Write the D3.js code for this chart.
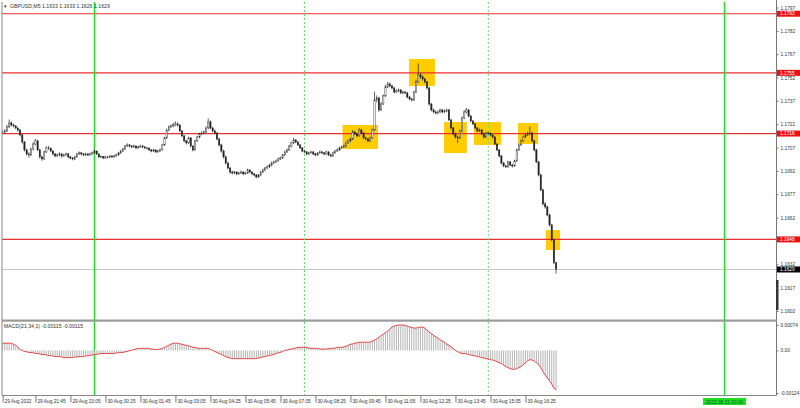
<!DOCTYPE html>
<html><head><meta charset="utf-8">
<script src="https://cdn.jsdelivr.net/npm/d3@7"></script>
<style>
body{margin:0;background:#fff}
svg{display:block}
text{font-family:"Liberation Sans",Arial,sans-serif}
</style>
</head><body>
<svg id="c" width="800" height="408"></svg>
<script>
// ---------------- data ----------------
const symbol = "GBPUSD,M5";
const firstBarTime = "2022-08-29 20:30";
const firstOpen = 1.17165;
const close = [1.17170,1.17177,1.17203,1.17228,1.17215,1.17209,1.17196,1.17183,1.17151,1.17106,
1.17055,1.17029,1.17023,1.17061,1.17093,1.17113,1.17055,1.17010,1.16997,1.17042,
1.17068,1.17065,1.17048,1.17029,1.17016,1.17023,1.17029,1.17016,1.17023,1.17029,
1.17010,1.17003,1.16997,1.17010,1.17029,1.17036,1.17029,1.17023,1.17029,1.17023,
1.17029,1.17036,1.17048,1.17029,1.17010,1.17012,1.17003,1.17010,1.17008,1.17016,
1.17010,1.17016,1.17023,1.17036,1.17048,1.17061,1.17080,1.17087,1.17080,1.17074,
1.17080,1.17068,1.17074,1.17080,1.17074,1.17068,1.17066,1.17055,1.17048,1.17055,
1.17042,1.17048,1.17055,1.17087,1.17132,1.17183,1.17203,1.17209,1.17215,1.17222,
1.17215,1.17177,1.17145,1.17113,1.17100,1.17132,1.17080,1.17055,1.17113,1.17138,
1.17158,1.17164,1.17170,1.17196,1.17235,1.17196,1.17177,1.17164,1.17125,1.17087,
1.17048,1.17010,1.16971,1.16939,1.16913,1.16907,1.16913,1.16901,1.16907,1.16913,
1.16901,1.16907,1.16926,1.16913,1.16901,1.16894,1.16881,1.16894,1.16913,1.16926,
1.16939,1.16946,1.16958,1.16971,1.16978,1.16984,1.16997,1.17003,1.17023,1.17042,
1.17055,1.17080,1.17100,1.17119,1.17106,1.17087,1.17068,1.17048,1.17042,1.17029,
1.17036,1.17042,1.17029,1.17023,1.17036,1.17042,1.17036,1.17029,1.17042,1.17023,
1.17016,1.17036,1.17048,1.17055,1.17068,1.17074,1.17080,1.17100,1.17113,1.17125,
1.17170,1.17158,1.17145,1.17183,1.17164,1.17132,1.17125,1.17113,1.17132,1.17183,
1.17376,1.17389,1.17312,1.17350,1.17402,1.17460,1.17479,1.17466,1.17453,1.17427,
1.17434,1.17440,1.17421,1.17427,1.17421,1.17395,1.17382,1.17376,1.17427,1.17492,
1.17537,1.17524,1.17511,1.17492,1.17453,1.17350,1.17312,1.17299,1.17292,1.17299,
1.17312,1.17299,1.17305,1.17312,1.17248,1.17196,1.17158,1.17138,1.17132,1.17177,
1.17260,1.17299,1.17312,1.17273,1.17241,1.17222,1.17196,1.17177,1.17183,1.17158,
1.17138,1.17164,1.17162,1.17151,1.17138,1.17093,1.17055,1.17016,1.16971,1.16952,
1.16946,1.16978,1.16958,1.16952,1.16984,1.17055,1.17087,1.17113,1.17138,1.17151,
1.17158,1.17164,1.17113,1.17055,1.16978,1.16894,1.16798,1.16708,1.16689,1.16637,
1.16573,1.16477,1.16330,1.16290];
const high = [1.17180,1.17190,1.17215,1.17250,1.17238,1.17224,1.17215,1.17200,1.17190,1.17158,
1.17112,1.17062,1.17040,1.17070,1.17105,1.17125,1.17120,1.17062,1.17018,1.17050,
1.17078,1.17080,1.17072,1.17055,1.17036,1.17032,1.17040,1.17035,1.17030,1.17038,
1.17035,1.17016,1.17010,1.17018,1.17036,1.17045,1.17042,1.17035,1.17037,1.17034,
1.17038,1.17044,1.17058,1.17052,1.17034,1.17020,1.17016,1.17017,1.17016,1.17023,
1.17021,1.17024,1.17030,1.17042,1.17055,1.17068,1.17088,1.17097,1.17094,1.17086,
1.17089,1.17086,1.17082,1.17088,1.17085,1.17080,1.17075,1.17072,1.17060,1.17062,
1.17060,1.17056,1.17064,1.17095,1.17140,1.17192,1.17212,1.17220,1.17230,1.17238,
1.17232,1.17220,1.17182,1.17150,1.17120,1.17140,1.17138,1.17086,1.17120,1.17146,
1.17166,1.17175,1.17180,1.17206,1.17258,1.17245,1.17204,1.17186,1.17170,1.17132,
1.17094,1.17056,1.17018,1.16978,1.16945,1.16922,1.16920,1.16918,1.16915,1.16922,
1.16918,1.16914,1.16935,1.16932,1.16918,1.16908,1.16900,1.16902,1.16920,1.16934,
1.16946,1.16955,1.16966,1.16980,1.16986,1.16993,1.17005,1.17012,1.17030,1.17050,
1.17064,1.17088,1.17108,1.17132,1.17125,1.17112,1.17094,1.17074,1.17055,1.17048,
1.17044,1.17050,1.17047,1.17036,1.17042,1.17052,1.17048,1.17042,1.17050,1.17046,
1.17030,1.17044,1.17055,1.17064,1.17076,1.17083,1.17090,1.17108,1.17122,1.17134,
1.17182,1.17178,1.17164,1.17195,1.17190,1.17170,1.17140,1.17132,1.17140,1.17192,
1.17430,1.17405,1.17395,1.17362,1.17412,1.17472,1.17492,1.17488,1.17474,1.17460,
1.17445,1.17450,1.17447,1.17436,1.17434,1.17428,1.17402,1.17390,1.17436,1.17505,
1.17610,1.17550,1.17535,1.17518,1.17498,1.17460,1.17356,1.17320,1.17306,1.17308,
1.17320,1.17318,1.17314,1.17320,1.17318,1.17255,1.17202,1.17165,1.17146,1.17186,
1.17270,1.17310,1.17325,1.17318,1.17280,1.17248,1.17228,1.17202,1.17192,1.17190,
1.17165,1.17172,1.17172,1.17168,1.17156,1.17144,1.17098,1.17060,1.17022,1.16978,
1.16960,1.16986,1.16984,1.16965,1.16992,1.17064,1.17095,1.17122,1.17148,1.17160,
1.17172,1.17205,1.17170,1.17120,1.17062,1.16985,1.16902,1.16806,1.16720,1.16696,
1.16645,1.16580,1.16484,1.16330];
const low = [1.17157,1.17162,1.17170,1.17195,1.17205,1.17200,1.17188,1.17172,1.17142,1.17095,
1.17045,1.17018,1.17005,1.17015,1.17052,1.17085,1.17048,1.17000,1.16985,1.16990,
1.17035,1.17055,1.17040,1.17020,1.17008,1.17010,1.17015,1.17005,1.17010,1.17018,
1.17002,1.16995,1.16988,1.16990,1.17004,1.17022,1.17020,1.17015,1.17016,1.17014,
1.17018,1.17022,1.17030,1.17022,1.17003,1.17004,1.16996,1.16998,1.17001,1.17003,
1.17004,1.17006,1.17011,1.17018,1.17030,1.17042,1.17055,1.17074,1.17072,1.17066,
1.17068,1.17060,1.17062,1.17069,1.17066,1.17060,1.17058,1.17048,1.17040,1.17042,
1.17035,1.17036,1.17041,1.17050,1.17080,1.17125,1.17175,1.17196,1.17200,1.17208,
1.17205,1.17170,1.17138,1.17105,1.17090,1.17094,1.17070,1.17045,1.17050,1.17106,
1.17130,1.17150,1.17156,1.17163,1.17188,1.17188,1.17168,1.17156,1.17116,1.17078,
1.17038,1.17000,1.16962,1.16930,1.16902,1.16898,1.16900,1.16892,1.16894,1.16900,
1.16893,1.16895,1.16900,1.16905,1.16892,1.16885,1.16872,1.16875,1.16888,1.16906,
1.16918,1.16932,1.16940,1.16950,1.16964,1.16970,1.16978,1.16990,1.16996,1.17016,
1.17035,1.17048,1.17072,1.17092,1.17098,1.17080,1.17060,1.17040,1.17034,1.17020,
1.17022,1.17030,1.17022,1.17014,1.17016,1.17030,1.17028,1.17020,1.17024,1.17015,
1.17008,1.17010,1.17030,1.17042,1.17048,1.17060,1.17068,1.17072,1.17094,1.17105,
1.17118,1.17150,1.17136,1.17140,1.17156,1.17124,1.17116,1.17104,1.17106,1.17125,
1.17178,1.17360,1.17300,1.17305,1.17344,1.17395,1.17452,1.17458,1.17445,1.17418,
1.17420,1.17426,1.17414,1.17412,1.17413,1.17386,1.17374,1.17366,1.17370,1.17420,
1.17485,1.17512,1.17500,1.17482,1.17444,1.17340,1.17302,1.17290,1.17282,1.17285,
1.17292,1.17290,1.17292,1.17298,1.17240,1.17186,1.17148,1.17128,1.17100,1.17125,
1.17170,1.17252,1.17290,1.17265,1.17232,1.17214,1.17188,1.17170,1.17170,1.17150,
1.17128,1.17132,1.17154,1.17142,1.17128,1.17085,1.17046,1.17008,1.16962,1.16944,
1.16938,1.16940,1.16950,1.16942,1.16946,1.16978,1.17048,1.17080,1.17106,1.17132,
1.17145,1.17150,1.17105,1.17046,1.16970,1.16885,1.16790,1.16698,1.16678,1.16628,
1.16563,1.16468,1.16322,1.16260];
const macd = [0.00021,0.00021,0.00021,0.00021,0.00021,0.00018,0.00015,
0.00009,0.00003,0,-0.00003,-0.00004,-0.00006,
-0.00006,-0.00007,-0.00009,-0.00009,-0.00010,
-0.00012,-0.00012,-0.00013,-0.00015,-0.00015,
-0.00016,-0.00018,-0.00018,-0.00018,-0.00019,
-0.00021,-0.00021,-0.00021,-0.00021,-0.00021,
-0.00019,-0.00019,-0.00018,-0.00018,-0.00018,
-0.00016,-0.00015,-0.00015,-0.00013,-0.00012,
-0.00012,-0.00010,-0.00009,-0.00009,-0.00009,
-0.00009,-0.00009,-0.00009,-0.00009,-0.00007,
-0.00007,-0.00006,-0.00006,-0.00004,-0.00003,
-0.00001,0,0.00003,0.00004,0.00006,
0.00006,0.00006,0.00006,0.00006,0.00006,
0.00004,0.00003,0.00003,0.00003,0.00004,
0.00006,0.00009,0.00012,0.00015,0.00018,
0.00021,0.00021,0.00021,0.00019,0.00018,
0.00016,0.00015,0.00013,0.00012,0.00009,
0.00009,0.00007,0.00006,0.00006,0.00006,
0.00006,0.00006,0.00003,0,-0.00003,
-0.00006,-0.00009,-0.00012,-0.00015,-0.00018,
-0.00021,-0.00022,-0.00024,-0.00024,-0.00024,
-0.00024,-0.00024,-0.00024,-0.00024,-0.00024,-0.00024,-0.00024,-0.00024,-0.00024,-0.00022,
-0.00021,-0.00019,-0.00018,-0.00016,-0.00015,
-0.00013,-0.00012,-0.00009,-0.00007,-0.00006,
-0.00003,0,0.00001,0.00003,0.00004,
0.00006,0.00007,0.00009,0.00009,0.00009,
0.00009,0.00009,0.00007,0.00006,0.00006,
0.00006,0.00006,0.00004,0.00004,0.00004,
0.00004,0.00006,0.00006,0.00006,0.00007,
0.00009,0.00009,0.00009,0.00010,0.00012,
0.00015,0.00018,0.00019,0.00021,0.00022,
0.00024,0.00024,0.00024,0.00024,0.00024,
0.00024,0.00027,0.00030,0.00034,0.00038,
0.00043,0.00047,0.00052,0.00056,0.00062,
0.00068,0.00071,0.00073,0.00074,0.00074,
0.00074,0.00073,0.00071,0.00068,0.00067,
0.00065,0.00065,0.00067,0.00068,0.00068,
0.00065,0.00059,0.00053,0.00049,0.00044,
0.00040,0.00036,0.00031,0.00027,0.00024,
0.00019,0.00015,0.00010,0.00006,0,
-0.00004,-0.00007,-0.00009,-0.00009,-0.00010,
-0.00012,-0.00013,-0.00015,-0.00016,-0.00018,
-0.00019,-0.00021,-0.00022,-0.00024,-0.00025,
-0.00027,-0.00028,-0.00030,-0.00033,-0.00036,
-0.00038,-0.00043,-0.00047,-0.00050,-0.00053,
-0.00055,-0.00055,-0.00053,-0.00050,-0.00047,
-0.00041,-0.00036,-0.00030,-0.00027,-0.00028,
-0.00031,-0.00036,-0.00041,-0.00050,-0.00062,
-0.00071,-0.00080,-0.00089,-0.00098,-0.00110,-0.00115];

const levels = [1.1793, 1.1755, 1.1716, 1.1648];
const priceTicks = [1.1797,1.1782,1.1767,1.1752,1.1737,1.1722,1.1707,1.1692,1.1677,1.1662,1.1632,1.1617,1.1602];
const priceDomain = [1.1602, 1.1797];
const macdTicks = [0.00074, 0, -0.00124];
const timeTicks = ["2022-08-29 20:30","2022-08-29 21:45","2022-08-29 23:05","2022-08-30 00:25","2022-08-30 01:45",
  "2022-08-30 03:05","2022-08-30 04:25","2022-08-30 05:45","2022-08-30 07:05","2022-08-30 08:25","2022-08-30 09:45",
  "2022-08-30 11:05","2022-08-30 12:25","2022-08-30 13:45","2022-08-30 15:05","2022-08-30 16:25"];
const timeTickLabels = ["29 Aug 2022","29 Aug 21:45","29 Aug 23:05","30 Aug 00:25","30 Aug 01:45",
  "30 Aug 03:05","30 Aug 04:25","30 Aug 05:45","30 Aug 07:05","30 Aug 08:25","30 Aug 09:45",
  "30 Aug 11:05","30 Aug 12:25","30 Aug 13:45","30 Aug 15:05","30 Aug 16:25"];
const dayLines = ["2022-08-30 00:00","2022-08-31 00:00"];
const dayLineLabel = "2022.08.31 00:00";
const sessionLines = ["2022-08-30 08:00","2022-08-30 15:00"];
const boxStart  = ["2022-08-30 09:27","2022-08-30 11:59","2022-08-30 13:19","2022-08-30 14:27","2022-08-30 16:08","2022-08-30 17:12"];
const boxEnd    = ["2022-08-30 10:48","2022-08-30 12:58","2022-08-30 14:11","2022-08-30 15:29","2022-08-30 16:54","2022-08-30 17:44"];
const boxTop    = [1.17215,1.17639,1.17234,1.17234,1.17228,1.16540];
const boxBottom = [1.17061,1.17466,1.17035,1.17087,1.17093,1.16412];

// ---------------- chart ----------------
const svg = d3.select("#c");
const parse = d3.timeParse("%Y-%m-%d %H:%M");
const t0 = parse(firstBarTime);
const times = close.map((_, i) => d3.timeMinute.offset(t0, 5 * i));
const open = close.map((c, i) => i === 0 ? firstOpen : close[i - 1]);
const N = close.length;

const L = 2, R = 776.5, TOP = 2, SEP = 320.5, BOT = 395.5;
const x = d3.scaleTime().domain([times[0], times[N - 1]]).range([2.6, 556.1]);
const y = d3.scaleLinear().domain(priceDomain).range([311, 7.5]);
const ym = d3.scaleLinear().domain([-0.00124, 0.00074]).range([393, 325]);
const FONT = "Liberation Sans, Arial, sans-serif";

// yellow boxes
svg.append("g").selectAll("rect").data(boxStart).join("rect")
  .attr("x", (d, i) => x(parse(d)))
  .attr("width", (d, i) => x(parse(boxEnd[i])) - x(parse(d)))
  .attr("y", (d, i) => y(boxTop[i]))
  .attr("height", (d, i) => y(boxBottom[i]) - y(boxTop[i]))
  .attr("fill", "#FFCC00");

// current price line
const last = N - 1;
const yl = Math.round(y(close[last])) + 0.5;
svg.append("line").attr("x1", L).attr("x2", R).attr("y1", yl).attr("y2", yl)
  .attr("stroke", "#c8c8c8").attr("stroke-width", 1);

// level lines
svg.append("g").selectAll("line").data(levels).join("line")
  .attr("x1", L).attr("x2", R)
  .attr("y1", d => y(d)).attr("y2", d => y(d))
  .attr("stroke", "#e83030").attr("stroke-width", 1.2);

// vertical lines
svg.append("g").selectAll("line").data(sessionLines).join("line")
  .attr("x1", d => x(parse(d))).attr("x2", d => x(parse(d)))
  .attr("y1", TOP).attr("y2", BOT)
  .attr("stroke", "#66dd66").attr("stroke-width", 1).attr("stroke-dasharray", "2,2");
svg.append("g").selectAll("line").data(dayLines).join("line")
  .attr("x1", d => x(parse(d))).attr("x2", d => x(parse(d)))
  .attr("y1", TOP).attr("y2", BOT)
  .attr("stroke", "#22dd22").attr("stroke-width", 1.5);

// candles
const cg = svg.append("g");
cg.selectAll("line").data(close).join("line")
  .attr("x1", (d, i) => x(times[i])).attr("x2", (d, i) => x(times[i]))
  .attr("y1", (d, i) => y(high[i])).attr("y2", (d, i) => y(low[i]))
  .attr("stroke", "#222").attr("stroke-width", 0.7);
cg.selectAll("rect").data(close).join("rect")
  .attr("x", (d, i) => x(times[i]) - 0.65).attr("width", 1.3)
  .attr("y", (d, i) => y(Math.max(open[i], d)))
  .attr("height", (d, i) => Math.max(0.5, Math.abs(y(open[i]) - y(d))))
  .attr("fill", (d, i) => d >= open[i] ? "#fff" : "#222")
  .attr("stroke", "#222").attr("stroke-width", 0.4);

// MACD histogram
const zero = ym(0);
svg.append("g").selectAll("line").data(macd).join("line")
  .attr("x1", (d, i) => x(times[i])).attr("x2", (d, i) => x(times[i]))
  .attr("y1", zero).attr("y2", d => ym(d))
  .attr("stroke", "#b4b4b4").attr("stroke-width", 1);
// signal line (period 1)
svg.append("path").datum(macd)
  .attr("d", d3.line().x((d, i) => x(times[i])).y(d => ym(d)))
  .attr("fill", "none").attr("stroke", "#e04848").attr("stroke-width", 1);

// frame
svg.append("line").attr("x1", L).attr("x2", L).attr("y1", TOP).attr("y2", BOT).attr("stroke", "#888");
svg.append("line").attr("x1", R).attr("x2", R).attr("y1", 0).attr("y2", BOT).attr("stroke", "#777");
svg.append("line").attr("x1", L).attr("x2", R).attr("y1", BOT).attr("y2", BOT).attr("stroke", "#888");
svg.append("rect").attr("x", L).attr("y", SEP - 1).attr("width", R - L).attr("height", 2.2).attr("fill", "#999");
svg.append("rect").attr("x", R - 0.5).attr("y", 280).attr("width", 2.5).attr("height", 30).attr("fill", "#333");

// price axis
const pAxis = svg.append("g").attr("transform", `translate(${R},0)`)
  .call(d3.axisRight(y).tickValues(priceTicks).tickFormat(d3.format(".4f")).tickSize(2).tickPadding(2));
pAxis.select(".domain").remove();
pAxis.selectAll(".tick line").attr("stroke", "#777");
pAxis.selectAll("text").attr("font-size", 4.8).attr("fill", "#333").attr("font-family", FONT);

// macd axis
const mAxis = svg.append("g").attr("transform", `translate(${R},0)`)
  .call(d3.axisRight(ym).tickValues(macdTicks).tickFormat(d => d === 0 ? "0.00" : d.toFixed(5)).tickSize(2).tickPadding(2));
mAxis.select(".domain").remove();
mAxis.selectAll(".tick line").attr("stroke", "#777");
mAxis.selectAll("text").attr("font-size", 4.8).attr("fill", "#333").attr("font-family", FONT);

// level labels
const lv = svg.append("g").selectAll("g").data(levels).join("g")
  .attr("transform", d => `translate(${R + 0.5},${y(d)})`);
lv.append("rect").attr("x", 0).attr("y", -3).attr("width", 24).attr("height", 6).attr("fill", "#ee1111");
lv.append("text").attr("x", 3).attr("dy", "0.35em").attr("font-size", 4.8).attr("fill", "#fff")
  .text(d => d.toFixed(4));
// last price label
const lp = svg.append("g").attr("transform", `translate(${R + 0.5},${y(close[last]) + 0.5})`);
lp.append("rect").attr("x", 0).attr("y", -3).attr("width", 24).attr("height", 6).attr("fill", "#000");
lp.append("text").attr("x", 3).attr("dy", "0.35em").attr("font-size", 4.8).attr("fill", "#fff").text(close[last].toFixed(4));

// time axis
const tAxis = svg.append("g").attr("transform", `translate(0,${BOT})`)
  .call(d3.axisBottom(x).tickValues(timeTicks.map(parse)).tickFormat((d, i) => timeTickLabels[i]).tickSize(7));
tAxis.select(".domain").remove();
tAxis.selectAll(".tick line").attr("stroke", "#777");
tAxis.selectAll("text").attr("text-anchor", "start").attr("x", 1.5).attr("y", 7.5).attr("dy", 0)
  .attr("font-size", 4.8).attr("fill", "#333").attr("font-family", FONT);

// day label at bottom
const dx = x(parse(dayLines[1]));
svg.append("rect").attr("x", dx - 21.5).attr("y", 398).attr("width", 43).attr("height", 7).attr("fill", "#22dd22");
svg.append("text").attr("x", dx).attr("y", 403.5).attr("text-anchor", "middle").attr("font-size", 4.8).attr("fill", "#063").text(dayLineLabel);

// titles
svg.append("text").attr("x", 3).attr("y", 8).attr("font-size", 4.5).attr("fill", "#333").attr("font-family", "DejaVu Sans").text("▼");
svg.append("text").attr("x", 10).attr("y", 8).attr("font-size", 5.2).attr("fill", "#333")
  .text(`${symbol} ${open[last].toFixed(4)} ${high[last].toFixed(4)} ${low[last].toFixed(4)} ${close[last].toFixed(4)}`);
svg.append("text").attr("x", 4).attr("y", 328).attr("font-size", 5.2).attr("fill", "#333")
  .text(`MACD(21,34,1) ${macd[last].toFixed(5)} ${macd[last].toFixed(5)}`);
</script>
</body></html>
